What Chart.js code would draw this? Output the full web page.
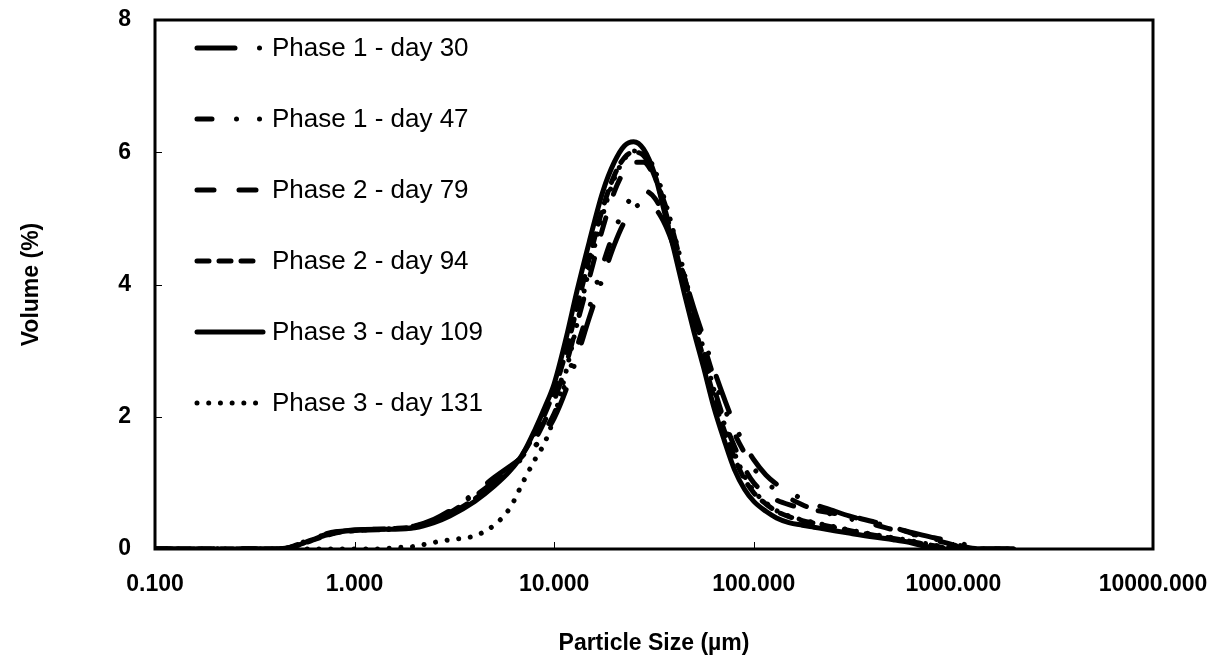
<!DOCTYPE html>
<html>
<head>
<meta charset="utf-8">
<script src="https://cdn.jsdelivr.net/npm/chart.js@4.4.1/dist/chart.umd.min.js"></script>
<style>
  html, body { margin: 0; padding: 0; background: #fff; }
  #psd { display: block; }
</style>
</head>
<body>
<canvas id="psd" width="1225" height="666"></canvas>
<script>
// particle sizes (µm), shared by all series
const sizes = [0.1, 0.2, 0.3, 0.4, 0.45, 0.5, 0.6, 0.7, 0.8, 1, 1.3, 1.6, 2, 2.5, 3, 4, 5, 6, 7, 8,
  9, 10, 11.5, 13, 15, 17.5, 20, 22.5, 25, 28, 32, 36, 40, 45, 50, 56, 63, 71, 80, 90,
  100, 115, 130, 150, 175, 200, 250, 300, 400, 500, 600, 700, 800, 900, 1000, 1200, 1500, 2000];

// volume (%) per sample
const day30 = [0, 0, 0, 0, 0.01, 0.04, 0.13, 0.2, 0.25, 0.28, 0.3, 0.31, 0.35, 0.45, 0.58, 0.85, 1.08, 1.25, 1.4, 1.55,
  1.75, 1.98, 2.42, 2.9, 3.5, 4.1, 4.6, 4.95, 5.15, 5.22, 5.15, 4.9, 4.55, 4.1, 3.65, 3.2, 2.72, 2.28, 1.88, 1.58,
  1.35, 1.12, 0.98, 0.86, 0.76, 0.68, 0.58, 0.5, 0.4, 0.32, 0.26, 0.21, 0.17, 0.14, 0.12, 0.05, 0, 0];
const day47 = [0, 0, 0, 0, 0.01, 0.05, 0.15, 0.22, 0.26, 0.28, 0.29, 0.3, 0.34, 0.44, 0.57, 0.83, 1.05, 1.22, 1.38, 1.55,
  1.8, 2.05, 2.55, 3.05, 3.65, 4.3, 4.8, 5.15, 5.35, 5.42, 5.3, 5.0, 4.6, 4.1, 3.6, 3.1, 2.6, 2.15, 1.75, 1.45,
  1.22, 1.02, 0.88, 0.77, 0.67, 0.6, 0.52, 0.46, 0.37, 0.29, 0.23, 0.19, 0.15, 0.12, 0.08, 0.02, 0, 0];
const day79 = [0, 0, 0, 0, 0.01, 0.05, 0.14, 0.21, 0.25, 0.28, 0.29, 0.3, 0.33, 0.42, 0.55, 0.8, 1.02, 1.22, 1.42, 1.65,
  1.95, 2.25, 2.8, 3.4, 4.1, 4.85, 5.4, 5.72, 5.85, 5.85, 5.6, 5.2, 4.72, 4.1, 3.55, 3.0, 2.45, 1.95, 1.55, 1.22,
  1.0, 0.84, 0.74, 0.67, 0.62, 0.59, 0.54, 0.5, 0.41, 0.33, 0.25, 0.18, 0.13, 0.1, 0.06, 0.01, 0, 0];
const day94 = [0, 0, 0, 0, 0.01, 0.04, 0.12, 0.19, 0.24, 0.28, 0.3, 0.31, 0.34, 0.42, 0.53, 0.76, 0.98, 1.2, 1.45, 1.75,
  2.05, 2.4, 3.0, 3.65, 4.4, 5.15, 5.65, 5.92, 6.0, 5.95, 5.62, 5.12, 4.6, 3.98, 3.42, 2.88, 2.3, 1.8, 1.38, 1.05,
  0.85, 0.68, 0.57, 0.49, 0.43, 0.39, 0.33, 0.28, 0.21, 0.16, 0.12, 0.08, 0.05, 0.02, 0, 0, 0, 0];
const day109 = [0, 0, 0, 0, 0.01, 0.04, 0.13, 0.2, 0.25, 0.29, 0.3, 0.3, 0.32, 0.4, 0.5, 0.72, 0.95, 1.18, 1.45, 1.8,
  2.15, 2.5, 3.2, 3.9, 4.65, 5.4, 5.85, 6.1, 6.16, 6.05, 5.65, 5.05, 4.5, 3.85, 3.3, 2.75, 2.15, 1.65, 1.2, 0.9,
  0.72, 0.57, 0.47, 0.4, 0.36, 0.33, 0.28, 0.24, 0.18, 0.14, 0.1, 0.05, 0.02, 0, 0, 0, 0, 0];
const day131 = [0, 0, 0, 0, 0, 0, 0, 0, 0, 0, 0, 0.02, 0.04, 0.1, 0.14, 0.2, 0.36, 0.62, 1.02, 1.35,
  1.62, 2.0, 2.7, 3.4, 4.25, 5.05, 5.6, 5.9, 6.02, 6.0, 5.72, 5.25, 4.75, 4.15, 3.58, 3.02, 2.42, 1.9, 1.45, 1.1,
  0.88, 0.7, 0.58, 0.5, 0.44, 0.4, 0.34, 0.29, 0.22, 0.17, 0.13, 0.09, 0.06, 0.03, 0.01, 0, 0, 0];

const seriesLabels = ['Phase 1 - day 30', 'Phase 1 - day 47', 'Phase 2 - day 79',
  'Phase 2 - day 94', 'Phase 3 - day 109', 'Phase 3 - day 131'];
const xTicks = [0.1, 1, 10, 100, 1000, 10000];
const yTicks = [0, 2, 4, 6, 8];

const FONT = "'Liberation Sans', Arial, sans-serif";
const LW = 5;

// dash patterns (round caps make the 0.01 pieces into dots)
const dashes = [
  [38, 24.5, 0.01, 24.5],
  [15, 24.5, 0.01, 23, 0.01, 24.5],
  [17, 25],
  [12, 10],
  [],
  [0.01, 11.7]
];

const allValues = [day30, day47, day79, day94, day109, day131];

const datasets = allValues.map((vals, i) => ({
  label: seriesLabels[i],
  data: sizes.map((s, j) => ({ x: s, y: vals[j] })),
  borderColor: '#000',
  borderWidth: LW,
  borderDash: dashes[i],
  borderCapStyle: 'round',
  borderJoinStyle: 'round',
  cubicInterpolationMode: 'monotone',
  pointRadius: 0,
  fill: false
}));

// frame, inward tick marks and the in-plot legend
const decor = {
  id: 'decor',
  afterDraw(chart) {
    const { ctx, chartArea: a, scales } = chart;
    ctx.save();
    ctx.strokeStyle = '#000';
    ctx.lineWidth = 1;
    xTicks.slice(1, -1).forEach(v => {
      const px = Math.round(scales.x.getPixelForValue(v)) + 0.5;
      ctx.beginPath(); ctx.moveTo(px, a.bottom); ctx.lineTo(px, a.bottom - 7); ctx.stroke();
    });
    yTicks.slice(1, -1).forEach(v => {
      const py = Math.round(scales.y.getPixelForValue(v)) + 0.5;
      ctx.beginPath(); ctx.moveTo(a.left, py); ctx.lineTo(a.left + 7, py); ctx.stroke();
    });
    ctx.lineWidth = 3;
    ctx.strokeRect(a.left, a.top, a.right - a.left, a.bottom - a.top);

    // legend
    ctx.font = '26px ' + FONT;
    ctx.fillStyle = '#000';
    ctx.textBaseline = 'middle';
    chart.data.datasets.forEach((ds, i) => {
      const y = a.top + 28 + i * 71;
      ctx.lineWidth = LW;
      ctx.lineCap = 'round';
      ctx.setLineDash(ds.borderDash);
      ctx.beginPath(); ctx.moveTo(a.left + 42, y); ctx.lineTo(a.left + 108, y); ctx.stroke();
      ctx.setLineDash([]);
      ctx.fillText(ds.label, a.left + 117, y + 1);
    });
    ctx.restore();
  }
};

new Chart(document.getElementById('psd'), {
  type: 'line',
  data: { datasets },
  options: {
    responsive: false,
    animation: false,
    layout: { padding: { top: 20, right: 72, left: 0, bottom: 0 } },
    plugins: { legend: { display: false }, tooltip: { enabled: false } },
    scales: {
      x: {
        type: 'logarithmic',
        min: 0.1,
        max: 10000,
        afterBuildTicks: s => { s.ticks = xTicks.map(v => ({ value: v })); },
        afterFit: s => { s.height = 117; },
        // hidden tick marks only push the labels away from the axis
        grid: { display: false, drawTicks: true, tickLength: 22 },
        border: { display: false },
        ticks: {
          color: '#000',
          padding: 0,
          maxRotation: 0,
          autoSkip: false,
          font: { family: FONT, size: 23, weight: 'bold' },
          callback: v => Number(v).toFixed(3)
        },
        title: {
          display: true,
          text: 'Particle Size (µm)',
          color: '#000',
          padding: { top: 0, bottom: 9 },
          font: { family: FONT, size: 23, weight: 'bold' }
        }
      },
      y: {
        min: 0,
        max: 8,
        afterBuildTicks: s => { s.ticks = yTicks.map(v => ({ value: v })); },
        afterFit: s => { s.width = 155; },
        grid: { display: false, drawTicks: true, tickLength: 24 },
        border: { display: false },
        ticks: {
          color: '#000',
          padding: 0,
          font: { family: FONT, size: 23, weight: 'bold' }
        },
        title: {
          display: true,
          text: 'Volume (%)',
          color: '#000',
          padding: { top: 18, bottom: 0 },
          font: { family: FONT, size: 23, weight: 'bold' }
        }
      }
    }
  },
  plugins: [decor]
});
</script>
</body>
</html>
